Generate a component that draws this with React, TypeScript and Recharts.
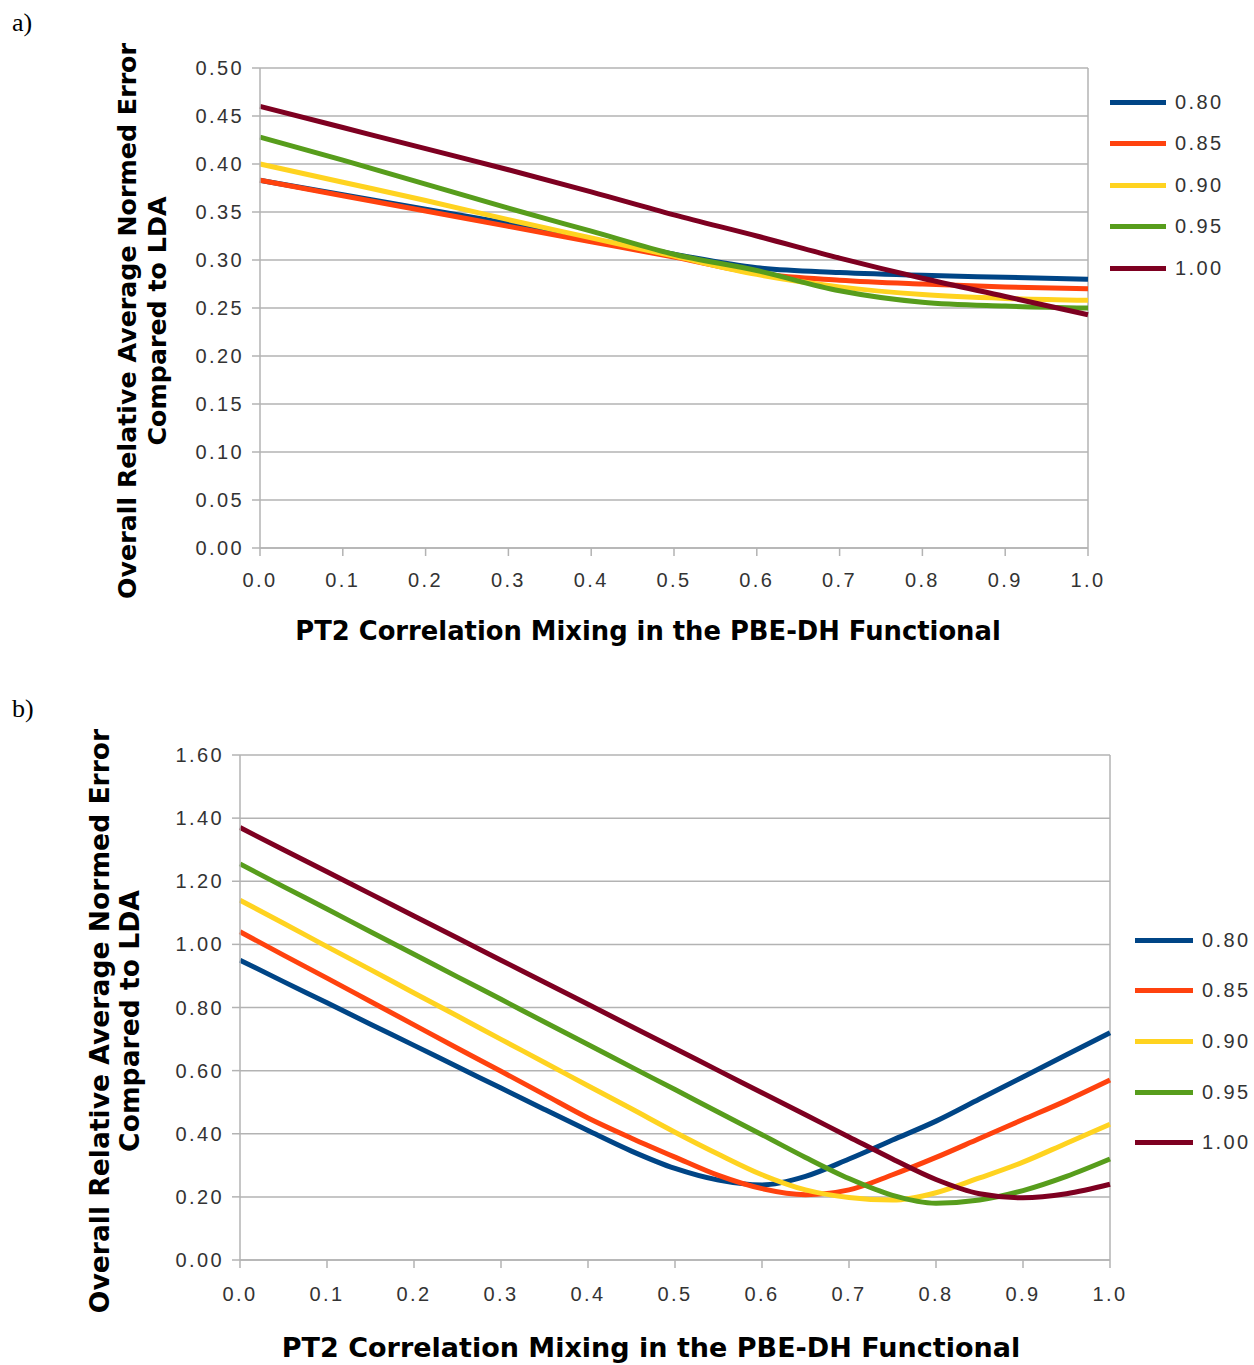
import { CartesianGrid, Line, LineChart, ReferenceLine, XAxis, YAxis } from "recharts";

const SERIES = ["0.80", "0.85", "0.90", "0.95", "1.00"];
const COLORS = ["#004586", "#ff420e", "#ffd320", "#579d1c", "#7e0021"];

// panel a) — PT2 mixing at 0.1 steps
const xA = [0, 0.1, 0.2, 0.3, 0.4, 0.5, 0.6, 0.7, 0.8, 0.9, 1.0];
const a080 = [0.383, 0.368, 0.353, 0.338, 0.322, 0.306, 0.292, 0.287, 0.284, 0.282, 0.280];
const a085 = [0.383, 0.367, 0.351, 0.335, 0.319, 0.303, 0.286, 0.279, 0.275, 0.272, 0.270];
const a090 = [0.400, 0.381, 0.362, 0.342, 0.323, 0.304, 0.285, 0.272, 0.264, 0.260, 0.258];
const a095 = [0.428, 0.404, 0.379, 0.354, 0.330, 0.306, 0.289, 0.268, 0.256, 0.252, 0.250];
const a100 = [0.460, 0.438, 0.416, 0.394, 0.371, 0.347, 0.325, 0.302, 0.281, 0.262, 0.243];
const yTicksA = [0, 0.05, 0.1, 0.15, 0.2, 0.25, 0.3, 0.35, 0.4, 0.45, 0.5];

// panel b) — PT2 mixing at 0.05 steps
const xB = [0, 0.05, 0.1, 0.15, 0.2, 0.25, 0.3, 0.35, 0.4, 0.45, 0.5, 0.55, 0.6, 0.65, 0.7, 0.75, 0.8, 0.85, 0.9, 0.95, 1.0];
const b080 = [0.95, 0.882, 0.815, 0.747, 0.68, 0.612, 0.545, 0.477, 0.41, 0.345, 0.29, 0.253, 0.238, 0.265, 0.32, 0.38, 0.44, 0.51, 0.58, 0.65, 0.72];
const b085 = [1.04, 0.966, 0.893, 0.819, 0.745, 0.671, 0.598, 0.524, 0.45, 0.386, 0.326, 0.268, 0.226, 0.207, 0.222, 0.27, 0.325, 0.385, 0.445, 0.505, 0.57];
const b090 = [1.14, 1.067, 0.993, 0.92, 0.846, 0.773, 0.699, 0.626, 0.552, 0.479, 0.405, 0.335, 0.27, 0.222, 0.198, 0.19, 0.213, 0.26, 0.31, 0.37, 0.43];
const b095 = [1.255, 1.183, 1.112, 1.04, 0.969, 0.897, 0.826, 0.754, 0.683, 0.611, 0.54, 0.468, 0.397, 0.325, 0.258, 0.205, 0.18, 0.19, 0.22, 0.265, 0.32];
const b100 = [1.37, 1.3, 1.23, 1.16, 1.09, 1.02, 0.95, 0.88, 0.81, 0.74, 0.67, 0.6, 0.53, 0.46, 0.39, 0.32, 0.255, 0.21, 0.197, 0.21, 0.24];
const yTicksB = [0, 0.2, 0.4, 0.6, 0.8, 1.0, 1.2, 1.4, 1.6];

const xTicks = [0, 0.1, 0.2, 0.3, 0.4, 0.5, 0.6, 0.7, 0.8, 0.9, 1.0];

const build = (xs: number[], cols: number[][]) =>
  xs.map((x, i) => {
    const row: Record<string, number> = { x };
    SERIES.forEach((s, j) => (row[s] = cols[j][i]));
    return row;
  });

const dataA = build(xA, [a080, a085, a090, a095, a100]);
const dataB = build(xB, [b080, b085, b090, b095, b100]);

const GRID = "#b3b3b3";
const tickFont = { fill: "#333", fontSize: 20, fontFamily: "Liberation Sans", letterSpacing: 2.4 };
const titleFont = { fontFamily: "DejaVu Sans", fontWeight: "bold" as const, color: "#000", whiteSpace: "nowrap" as const };

function VTitle({ cx, cy, size, text }: { cx: number; cy: number; size: number; text: string }) {
  return (
    <div style={{ ...titleFont, position: "absolute", left: cx, top: cy, fontSize: size, lineHeight: 1,
      transform: "translate(-50%, -50%) rotate(-90deg)" }}>{text}</div>
  );
}

function Legend({ left, top, gap, lineW }: { left: number; top: number; gap: number; lineW: number }) {
  return (
    <>
      {SERIES.map((s, i) => (
        <div key={s} style={{ position: "absolute", left, top: top + i * gap - 12, height: 24, display: "flex", alignItems: "center" }}>
          <div style={{ width: lineW, height: 5, background: COLORS[i] }} />
          <span style={{ marginLeft: 9, fontFamily: "Liberation Sans", fontSize: 20, letterSpacing: 2.4, color: "#333" }}>{s}</span>
        </div>
      ))}
    </>
  );
}

function Panel({ data, yTicks, yMax, yDec, height, xGap, margin }: {
  data: Record<string, number>[]; yTicks: number[]; yMax: number; yDec: number; height: number; xGap: number;
  margin: { top: number; right: number; bottom: number; left: number };
}) {
  return (
    <LineChart width={1254} height={height} data={data} margin={margin}>
      <CartesianGrid vertical={false} stroke={GRID} strokeWidth={1.5} />
      <XAxis dataKey="x" type="number" domain={[0, 1]} ticks={xTicks} tickFormatter={(v) => Number(v).toFixed(1)}
        stroke={GRID} strokeWidth={1.5} tickSize={8} tickMargin={xGap} tick={tickFont} height={40} />
      <YAxis type="number" domain={[0, yMax]} ticks={yTicks} tickFormatter={(v) => Number(v).toFixed(yDec)}
        stroke={GRID} strokeWidth={1.5} tickSize={8} tickMargin={8} tick={tickFont} width={60} interval={0} />
      <ReferenceLine x={1} stroke={GRID} strokeWidth={1.5} />
      {SERIES.map((s, i) => (
        <Line key={s} dataKey={s} type="monotone" stroke={COLORS[i]} strokeWidth={5} dot={false} isAnimationActive={false} />
      ))}
    </LineChart>
  );
}

export default function App() {
  return (
    <div style={{ position: "absolute", left: 0, top: 0, width: 1254, height: 1365, background: "#fff", overflow: "hidden" }}>
      <div style={{ position: "absolute", left: 12, top: 8, fontFamily: "Liberation Serif", fontSize: 26 }}>a)</div>
      <div style={{ position: "absolute", left: 0, top: 0 }}>
        <Panel data={dataA} yTicks={yTicksA} yMax={0.5} yDec={2} height={660} xGap={17}
          margin={{ top: 68, right: 166, bottom: 72, left: 200 }} />
      </div>
      <VTitle cx={128} cy={321} size={25.3} text="Overall Relative Average Normed Error" />
      <VTitle cx={158} cy={321} size={25.3} text="Compared to LDA" />
      <div style={{ ...titleFont, position: "absolute", left: 648, top: 632, fontSize: 25.8, lineHeight: 1, transform: "translate(-50%, -50%)" }}>
        PT2 Correlation Mixing in the PBE-DH Functional
      </div>
      <Legend left={1110} top={102} gap={41.5} lineW={56} />

      <div style={{ position: "absolute", left: 12, top: 694, fontFamily: "Liberation Serif", fontSize: 26 }}>b)</div>
      <div style={{ position: "absolute", left: 0, top: 690 }}>
        <Panel data={dataB} yTicks={yTicksB} yMax={1.6} yDec={2} height={675} xGap={19}
          margin={{ top: 65, right: 144, bottom: 65, left: 180 }} />
      </div>
      <VTitle cx={100} cy={1021} size={26.6} text="Overall Relative Average Normed Error" />
      <VTitle cx={130} cy={1021} size={26.6} text="Compared to LDA" />
      <div style={{ ...titleFont, position: "absolute", left: 651, top: 1347, fontSize: 27, lineHeight: 1, transform: "translate(-50%, -50%)" }}>
        PT2 Correlation Mixing in the PBE-DH Functional
      </div>
      <Legend left={1135} top={940} gap={50.7} lineW={58} />
    </div>
  );
}
